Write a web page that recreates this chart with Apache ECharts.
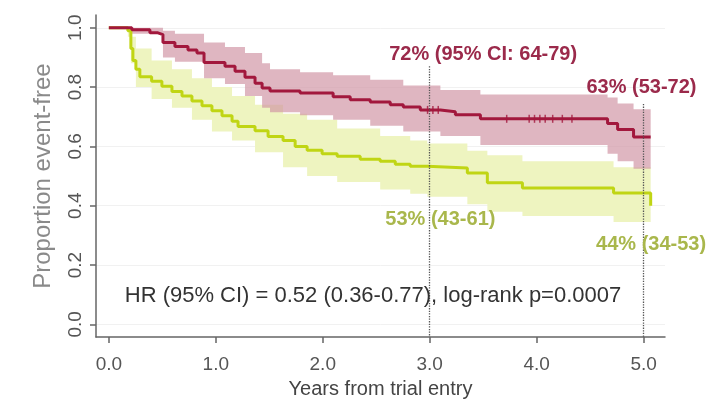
<!DOCTYPE html>
<html>
<head>
<meta charset="utf-8">
<script src="https://cdn.jsdelivr.net/npm/echarts@6/dist/echarts.min.js"></script>
<style>
  html, body { margin: 0; padding: 0; background: #fff; }
  #chart { width: 718px; height: 404px; }
</style>
</head>
<body>
<div id="chart"></div>
<script>
// Kaplan-Meier estimates: [years, proportion event-free]
const redCurve = [
  [0, 1.0], [0.215, 0.993], [0.384, 0.983], [0.459, 0.977], [0.506, 0.95],
  [0.618, 0.937], [0.740, 0.925], [0.824, 0.915], [0.89, 0.883], [1.086, 0.87],
  [1.18, 0.853], [1.273, 0.833], [1.367, 0.813], [1.433, 0.797], [1.507, 0.787],
  [1.788, 0.78], [2.097, 0.767], [2.257, 0.757], [2.444, 0.75], [2.631, 0.74],
  [2.753, 0.733], [2.912, 0.723], [3.10, 0.717], [3.24, 0.707], [3.474, 0.693],
  [4.663, 0.677], [4.757, 0.657], [4.906, 0.632], [5.066, 0.632]
];
const greenCurve = [
  [0, 1.0], [0.178, 0.99], [0.206, 0.93], [0.225, 0.89], [0.253, 0.86],
  [0.29, 0.835], [0.40, 0.82], [0.496, 0.803], [0.59, 0.785], [0.684, 0.77],
  [0.777, 0.753], [0.871, 0.737], [0.964, 0.72], [1.058, 0.703], [1.152, 0.685],
  [1.208, 0.667], [1.367, 0.653], [1.489, 0.633], [1.629, 0.62], [1.742, 0.60],
  [1.854, 0.587], [1.994, 0.575], [2.135, 0.567], [2.35, 0.557], [2.537, 0.55],
  [2.678, 0.54], [2.818, 0.533], [2.978, 0.527], [3.352, 0.51], [3.539, 0.477],
  [3.867, 0.46], [4.719, 0.443], [5.066, 0.40]
];

// 95% confidence bands: [years, lower, upper]
const redBand = [
  [0, 1.0, 1.0], [0.215, 0.98, 1.0], [0.506, 0.90, 0.99], [0.618, 0.885, 0.98],
  [0.89, 0.83, 0.95], [1.086, 0.81, 0.935], [1.273, 0.77, 0.915], [1.433, 0.73, 0.88],
  [1.507, 0.715, 0.86], [1.788, 0.705, 0.85], [2.097, 0.69, 0.84], [2.444, 0.67, 0.825],
  [2.753, 0.65, 0.805], [3.10, 0.635, 0.79], [3.474, 0.605, 0.775], [4.663, 0.575, 0.765],
  [4.757, 0.55, 0.745], [4.906, 0.525, 0.725], [5.066, 0.525, 0.725]
];
const greenBand = [
  [0, 1.0, 1.0], [0.178, 0.97, 1.0], [0.206, 0.88, 0.97], [0.253, 0.80, 0.93],
  [0.40, 0.76, 0.89], [0.59, 0.73, 0.86], [0.777, 0.69, 0.83], [0.964, 0.65, 0.80],
  [1.152, 0.62, 0.77], [1.367, 0.58, 0.74], [1.629, 0.53, 0.71], [1.854, 0.50, 0.69],
  [2.135, 0.48, 0.66], [2.537, 0.455, 0.635], [2.818, 0.44, 0.62], [2.978, 0.43, 0.61],
  [3.352, 0.405, 0.585], [3.539, 0.38, 0.57], [3.867, 0.365, 0.55], [4.719, 0.345, 0.53],
  [5.066, 0.345, 0.53]
];

// Censoring times on the upper curve
const redCensored = [2.98, 3.03, 3.08, 3.72, 3.93, 3.98, 4.03, 4.08, 4.15, 4.24, 4.33];

const xTicks = [0, 1, 2, 3, 4, 5];
const yTicks = [0, 0.2, 0.4, 0.6, 0.8, 1.0];

// Milestone markers and labels
const milestoneLines = [[3, 0.87], [5, 0.743]];
const annotations = [
  { text: '72% (95% CI: 64-79)', at: [3.50, 0.91], color: '#9b2a4b', bold: true },
  { text: '63% (53-72)',         at: [4.98, 0.797], color: '#9b2a4b', bold: true },
  { text: '53% (43-61)',         at: [3.10, 0.353], color: '#a9b74c', bold: true },
  { text: '44% (34-53)',         at: [5.07, 0.27], color: '#a9b74c', bold: true },
  { text: 'HR (95% CI) = 0.52 (0.36-0.77), log-rank p=0.0007', at: [2.47, 0.095], color: '#333', bold: false }
];

const FONT = 'Liberation Sans, Arial, sans-serif';
const AXIS_MIN_X = -0.12, AXIS_MAX_X = 5.2;
const AXIS_MIN_Y = -0.043, AXIS_MAX_Y = 1.043;

function stepValueAt(curve, t) {
  let v = curve[0][1];
  for (const p of curve) { if (p[0] <= t) v = p[1]; else break; }
  return v;
}

// Step-shaped confidence band drawn as one polygon through the grid's coordinate system
function bandSeries(band, color) {
  return {
    type: 'custom', silent: true, z: 1,
    data: band,
    encode: { x: 0, y: [1, 2] },
    renderItem: function (params, api) {
      if (params.dataIndex !== 0) return null;
      const upper = [], lower = [];
      for (let i = 0; i < band.length; i++) {
        const t = band[i][0];
        const tNext = i + 1 < band.length ? band[i + 1][0] : t;
        upper.push(api.coord([t, band[i][2]]), api.coord([tNext, band[i][2]]));
        lower.push(api.coord([t, band[i][1]]), api.coord([tNext, band[i][1]]));
      }
      return {
        type: 'polygon',
        shape: { points: upper.concat(lower.reverse()) },
        style: { fill: color }
      };
    }
  };
}

const chart = echarts.init(document.getElementById('chart'), null, { renderer: 'canvas' });

const option = {
  animation: false,
  backgroundColor: '#fff',
  grid: { left: 96, right: 53, top: 15, bottom: 63, containLabel: false },
  xAxis: {
    type: 'value', min: AXIS_MIN_X, max: AXIS_MAX_X,
    name: 'Years from trial entry', nameLocation: 'middle', nameGap: 34,
    nameTextStyle: { fontFamily: FONT, fontSize: 20, color: '#444' },
    axisLine: { show: true, onZero: false, lineStyle: { color: '#666', width: 1.5 } },
    axisTick: { show: true, length: 6, customValues: xTicks, lineStyle: { color: '#666', width: 1.5 } },
    axisLabel: { customValues: xTicks, margin: 18, fontFamily: FONT, fontSize: 19, color: '#555',
                 formatter: v => v.toFixed(1) },
    splitLine: { show: false }
  },
  yAxis: {
    type: 'value', min: AXIS_MIN_Y, max: AXIS_MAX_Y,
    name: 'Proportion event-free', nameLocation: 'middle', nameRotate: 90, nameGap: 41,
    nameTextStyle: { fontFamily: FONT, fontSize: 24, color: '#8a8a8a' },
    axisLine: { show: true, onZero: false, lineStyle: { color: '#666', width: 1.5 } },
    axisTick: { show: true, length: 6, customValues: yTicks, lineStyle: { color: '#666', width: 1.5 } },
    axisLabel: { customValues: yTicks, rotate: 90, margin: 11, fontFamily: FONT, fontSize: 19, color: '#555',
                 formatter: v => v.toFixed(1) },
    splitLine: { show: true, lineStyle: { color: '#f1f1f1', width: 1 } }
  },
  series: [
    bandSeries(greenBand, '#eef4c0'),
    bandSeries(redBand, 'rgba(208,148,164,0.68)'),
    {
      type: 'line', step: 'end', symbol: 'none', data: greenCurve, z: 3,
      lineStyle: { color: '#c0d514', width: 3 }
    },
    {
      type: 'line', step: 'end', symbol: 'none', data: redCurve, z: 4,
      lineStyle: { color: '#a2183d', width: 3 },
      markLine: {
        silent: true, symbol: 'none', label: { show: false },
        lineStyle: { color: '#555', type: 'dotted', width: 1.3 },
        data: milestoneLines.map(m => [{ coord: [m[0], m[1]] }, { coord: [m[0], AXIS_MIN_Y] }])
      }
    },
    {
      type: 'scatter', z: 5, silent: true,
      symbol: 'rect', symbolSize: [1.5, 8],
      itemStyle: { color: '#a2183d' },
      data: redCensored.map(t => [t, stepValueAt(redCurve, t)])
    }
  ]
};

chart.setOption(option);

// Text annotations placed in data coordinates
chart.setOption({
  graphic: annotations.map(a => {
    const p = chart.convertToPixel({ gridIndex: 0 }, a.at);
    return {
      type: 'text', x: p[0], y: p[1], z: 10,
      style: {
        text: a.text, fill: a.color, align: 'center', verticalAlign: 'middle',
        font: (a.bold ? 'bold 20px ' : '22px ') + FONT
      }
    };
  })
});
</script>
</body>
</html>
